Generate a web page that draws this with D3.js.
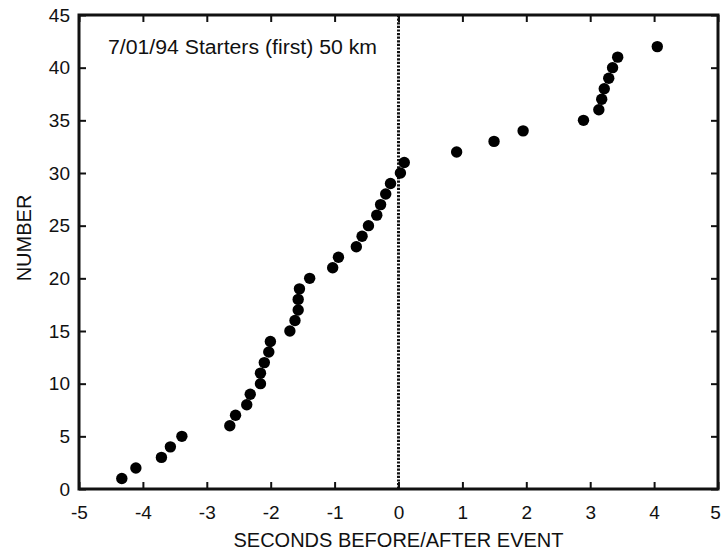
<!DOCTYPE html>
<html>
<head>
<meta charset="utf-8">
<script src="https://cdn.jsdelivr.net/npm/d3@7"></script>
<style>
  html, body { margin: 0; padding: 0; background: #fff; }
  text { font-family: "Liberation Sans", Arial, Helvetica, sans-serif; fill: #111; }
</style>
</head>
<body>
<svg id="chart" width="723" height="555"></svg>
<script>
const seconds = [-4.33, -4.11, -3.71, -3.57, -3.39, -2.64, -2.55, -2.375, -2.32, -2.16,
                 -2.16, -2.10, -2.03, -2.005, -1.70, -1.62, -1.57, -1.57, -1.55, -1.39,
                 -1.03, -0.94, -0.66, -0.57, -0.47, -0.34, -0.28, -0.20, -0.125, 0.03,
                 0.09, 0.91, 1.495, 1.95, 2.895, 3.135, 3.18, 3.22, 3.29, 3.35,
                 3.43, 4.05];
const numbers = [1, 2, 3, 4, 5, 6, 7, 8, 9, 10,
                 11, 12, 13, 14, 15, 16, 17, 18, 19, 20,
                 21, 22, 23, 24, 25, 26, 27, 28, 29, 30,
                 31, 32, 33, 34, 35, 36, 37, 38, 39, 40,
                 41, 42];
const xTicks = [-5, -4, -3, -2, -1, 0, 1, 2, 3, 4, 5];
const yTicks = [0, 5, 10, 15, 20, 25, 30, 35, 40, 45];
const titleText = "7/01/94 Starters (first) 50 km";
const xLabel = "SECONDS BEFORE/AFTER EVENT";
const yLabel = "NUMBER";

const svg = d3.select("#chart");
const mLeft = 79, mRight = 718, mTop = 15, mBottom = 489;
const x = d3.scaleLinear().domain([-5, 5]).range([mLeft, mRight]);
const y = d3.scaleLinear().domain([0, 45]).range([mBottom, mTop]);

const fs = 19;

// axes with inward ticks
const gB = svg.append("g").attr("transform", `translate(0,${mBottom})`)
  .call(d3.axisBottom(x).tickValues(xTicks).tickSize(-7).tickPadding(17).tickFormat(d3.format("d")));
const gL = svg.append("g").attr("transform", `translate(${mLeft},0)`)
  .call(d3.axisLeft(y).tickValues(yTicks).tickSize(-7).tickPadding(9).tickFormat(d3.format("d")));
const gT = svg.append("g").attr("transform", `translate(0,${mTop})`)
  .call(d3.axisTop(x).tickValues(xTicks).tickSize(-7).tickFormat(""));
const gR = svg.append("g").attr("transform", `translate(${mRight},0)`)
  .call(d3.axisRight(y).tickValues(yTicks).tickSize(-7).tickFormat(""));

[gB, gL, gT, gR].forEach(g => {
  g.select(".domain").remove();
  g.selectAll(".tick line").attr("stroke", "#111").attr("stroke-width", 2);
  g.selectAll(".tick text").attr("font-size", fs).attr("fill", "#111")
    .attr("font-family", "'Liberation Sans', Arial, sans-serif");
});
gB.selectAll(".tick text").text(d => d < 0 ? "-" + Math.abs(d) : d);
gB.selectAll(".tick text").filter(d => d === 5).attr("dx", -3);

// frame
svg.append("rect")
  .attr("x", mLeft).attr("y", mTop)
  .attr("width", mRight - mLeft).attr("height", mBottom - mTop)
  .attr("fill", "none").attr("stroke", "#111").attr("stroke-width", 3);

// dotted vertical line at 0
svg.append("line")
  .attr("x1", x(0)).attr("x2", x(0))
  .attr("y1", y(45)).attr("y2", y(0))
  .attr("stroke", "#111").attr("stroke-width", 3)
  .attr("stroke-dasharray", "2.2,1.4");

// points
svg.append("g").selectAll("circle")
  .data(seconds.map((s, i) => ({s, n: numbers[i]})))
  .join("circle")
  .attr("cx", d => x(d.s))
  .attr("cy", d => y(d.n))
  .attr("r", 5.7)
  .attr("fill", "#000");

// title inside plot
svg.append("text")
  .attr("x", 108).attr("y", 54)
  .attr("font-size", 20)
  .attr("textLength", 269)
  .attr("lengthAdjust", "spacingAndGlyphs")
  .text(titleText);

// axis titles
svg.append("text")
  .attr("x", (mLeft + mRight) / 2).attr("y", 547)
  .attr("text-anchor", "middle")
  .attr("font-size", 20)
  .text(xLabel);

svg.append("text")
  .attr("transform", `translate(31,238) rotate(-90)`)
  .attr("text-anchor", "middle")
  .attr("font-size", 20)
  .text(yLabel);
</script>
</body>
</html>
